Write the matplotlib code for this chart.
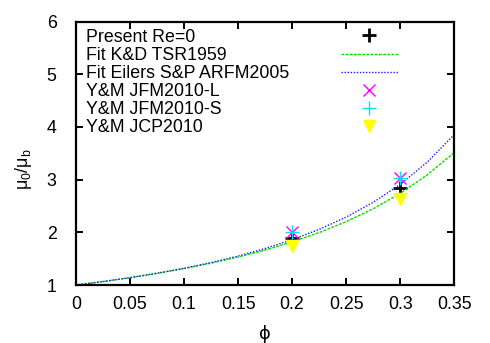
import numpy as np
import matplotlib
matplotlib.use('Agg')
import matplotlib.pyplot as plt

plt.rcParams['font.family'] = ['Liberation Sans', 'DejaVu Sans']
plt.rcParams['mathtext.default'] = 'regular'

# fit curves
phi_fit = [0, 0.025, 0.05, 0.075, 0.1, 0.125, 0.15, 0.175, 0.2, 0.225, 0.25, 0.275, 0.3, 0.325, 0.35]
kd_fit = [1.0, 1.066, 1.139, 1.221, 1.312, 1.415, 1.532, 1.664, 1.818, 1.996, 2.203, 2.447, 2.740, 3.090, 3.515]
eilers_fit = [1.0, 1.066, 1.140, 1.224, 1.318, 1.426, 1.550, 1.693, 1.860, 2.056, 2.289, 2.569, 2.910, 3.332, 3.855]

# simulation / literature points
phi_pts = [0.2, 0.3]
present = [1.89, 2.84]
ym_jfm_l = [2.01, 3.04]
ym_jfm_s = [2.00, 3.03]
ym_jcp = [1.75, 2.64]

labels = ['Present Re=0', 'Fit K&D TSR1959', 'Fit Eilers S&P ARFM2005',
          'Y&M JFM2010-L', 'Y&M JFM2010-S', 'Y&M JCP2010']

fs = 12.8

fig = plt.figure(figsize=(4.9, 3.43), dpi=100)
ax = fig.add_axes([0.155, 0.169, 0.772, 0.768])

h1, = ax.plot(phi_pts, present, ls='none', marker='+', ms=10, mew=2, color='black')
h2, = ax.plot(phi_fit, kd_fit, ls=(0, (2, 1)), lw=1, color='#00e000')
h3, = ax.plot(phi_fit, eilers_fit, ls=(0, (1, 1.2)), lw=1, color='#1a1aff')
h4, = ax.plot(phi_pts, ym_jfm_l, ls='none', marker='x', ms=9, mew=1, color='#ff00ff')
h5, = ax.plot(phi_pts, ym_jfm_s, ls='none', marker='+', ms=10, mew=1, color='#00e5ee')
h6, = ax.plot(phi_pts, ym_jcp, ls='none', marker='v', ms=8, color='#ffff00', mec='#ffff00')

ax.set_xlim(0, 0.35)
ax.set_ylim(1, 6)
ax.set_xticks(np.arange(0, 0.351, 0.05))
ax.set_xticklabels(['0', '0.05', '0.1', '0.15', '0.2', '0.25', '0.3', '0.35'])
ax.set_yticks(range(1, 7))

for s in ax.spines.values():
    s.set_linewidth(1.6)
ax.tick_params(direction='in', length=5, width=1.4, top=True, right=True, labelsize=fs)
ax.tick_params(axis='x', pad=8)
ax.tick_params(axis='y', pad=14)

ax.set_xlabel('ϕ', fontsize=fs, family=['DejaVu Sans'])
ax.xaxis.set_label_coords(0.5, -0.15)
ax.set_ylabel('μ$_0$/μ$_b$', fontsize=fs)
ax.yaxis.set_label_coords(-0.11, 0.44)

leg = ax.legend([h1, h2, h3, h4, h5, h6], labels, loc='upper left', bbox_to_anchor=(0.008, 1.0),
                frameon=False, fontsize=fs, markerfirst=False, handlelength=3.2,
                labelspacing=0.06, borderaxespad=0.1, borderpad=0.3, handletextpad=0.5)

# line the samples up in one column, text left aligned like gnuplot
fig.canvas.draw()
rend = fig.canvas.get_renderer()
rows = leg._legend_handle_box.get_children()[0].get_children()
widths = [r.get_children()[0].get_window_extent(rend).width for r in rows]
wmax = max(widths)
for r, w in zip(rows, widths):
    r.sep = 37 + (wmax - w) * 72 / fig.dpi

fig.savefig('out.png', dpi=100)
